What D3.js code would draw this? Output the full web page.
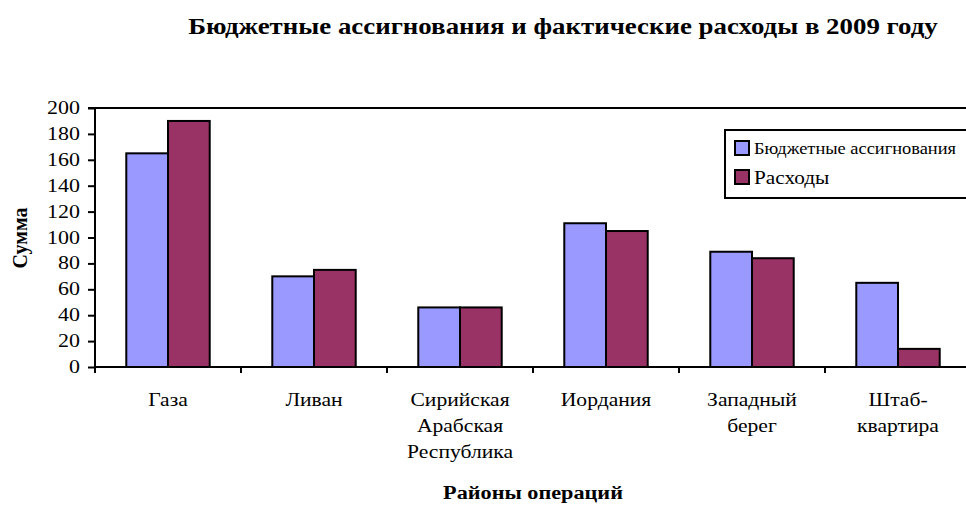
<!DOCTYPE html>
<html><head><meta charset="utf-8">
<script src="https://cdn.jsdelivr.net/npm/d3@7"></script>
<style>body{margin:0;background:#fff}svg{display:block}text{font-family:"Liberation Serif","Times New Roman",serif;fill:#000}</style>
</head><body><svg id="c" width="966" height="506"></svg>
<script>
const categories = [["Газа"],["Ливан"],["Сирийская","Арабская","Республика"],["Иордания"],["Западный","берег"],["Штаб-","квартира"]];
const seriesNames = ["Бюджетные ассигнования","Расходы"];
const budget = [165, 70, 46, 111, 89, 65];
const spent = [190, 75, 46, 105, 84, 14];
const yTicks = [0,20,40,60,80,100,120,140,160,180,200];
const colors = ["#9999FF","#993366"];

const svg = d3.select("#c");
const m = {l:95, t:108, r:971, b:367};
const x = d3.scaleBand().domain(d3.range(categories.length)).range([m.l, m.r]).paddingInner(0).paddingOuter(0);
const x1 = d3.scaleBand().domain([0,1]).range([0, x.bandwidth()]).paddingOuter(0.75).paddingInner(0);
const y = d3.scaleLinear().domain([0,200]).range([m.b, m.t]);

function stxt(parent, tx, ty, str, size, sx, anchor, weight){
  return parent.append("text").attr("transform",`translate(${tx},${ty}) scale(${sx},1)`)
    .attr("text-anchor",anchor||"start").attr("font-size",size).attr("font-weight",weight||"normal").text(str);
}

// top border
svg.append("line").attr("x1",m.l).attr("x2",966).attr("y1",m.t).attr("y2",m.t).attr("stroke","#000").attr("stroke-width",2);

const data = [budget, spent];
const g = svg.append("g");
categories.forEach((c,i)=>{
  data.forEach((s,j)=>{
    g.append("rect").attr("x", x(i)+x1(j)).attr("width", x1.bandwidth())
      .attr("y", y(s[i])).attr("height", y(0)-y(s[i]))
      .attr("fill", colors[j]).attr("stroke","#000").attr("stroke-width",2);
  });
});

// y axis
const ya = svg.append("g").attr("transform",`translate(${m.l},0)`)
  .call(d3.axisLeft(y).tickValues(yTicks).tickSize(7).tickFormat(""));
ya.select(".domain").attr("stroke-width",2).attr("d",`M-7,${m.t}H0V${m.b}`);
ya.selectAll(".tick line").attr("stroke-width",2);
yTicks.forEach(v=>{ stxt(svg, 80, y(v)+6, String(v), 18, 1.22, "end"); });

// x axis
const xa = svg.append("g").attr("transform",`translate(0,${m.b})`)
  .call(d3.axisBottom(x).tickValues([]).tickSizeOuter(0));
xa.select(".domain").attr("stroke-width",2).attr("d",`M${m.l},0H966`);
const bounds = d3.range(categories.length+1).map(i=>m.l+i*x.step());
xa.selectAll(".bt").data(bounds.filter(b=>b<966)).enter().append("line")
  .attr("x1",d=>d).attr("x2",d=>d).attr("y1",0).attr("y2",6).attr("stroke","#000").attr("stroke-width",2);

categories.forEach((c,i)=>{
  c.forEach((line,k)=>{
    stxt(svg, x(i)+x.bandwidth()/2, 406 + k*26, line, 18, 1.2, "middle");
  });
});

// titles
stxt(svg, 563, 34, "Бюджетные ассигнования и фактические расходы в 2009 году", 24, 1.12, "middle", "bold");
stxt(svg, 533, 499, "Районы операций", 19, 1.17, "middle", "bold");
svg.append("text").attr("transform","translate(27,238) rotate(-90)").attr("text-anchor","middle").attr("font-size",20).attr("font-weight","bold").text("Сумма");

// legend
const lg = svg.append("g");
lg.append("rect").attr("x",725).attr("y",130).attr("width",250).attr("height",68).attr("fill","#fff").attr("stroke","#000").attr("stroke-width",2);
seriesNames.forEach((n,j)=>{
  lg.append("rect").attr("x",735).attr("y",141+j*29).attr("width",14).attr("height",14).attr("fill",colors[j]).attr("stroke","#000").attr("stroke-width",2);
  stxt(lg, 754, 154+j*30, n, j?19:16, j?1.12:1.15, "start");
});
</script></body></html>
